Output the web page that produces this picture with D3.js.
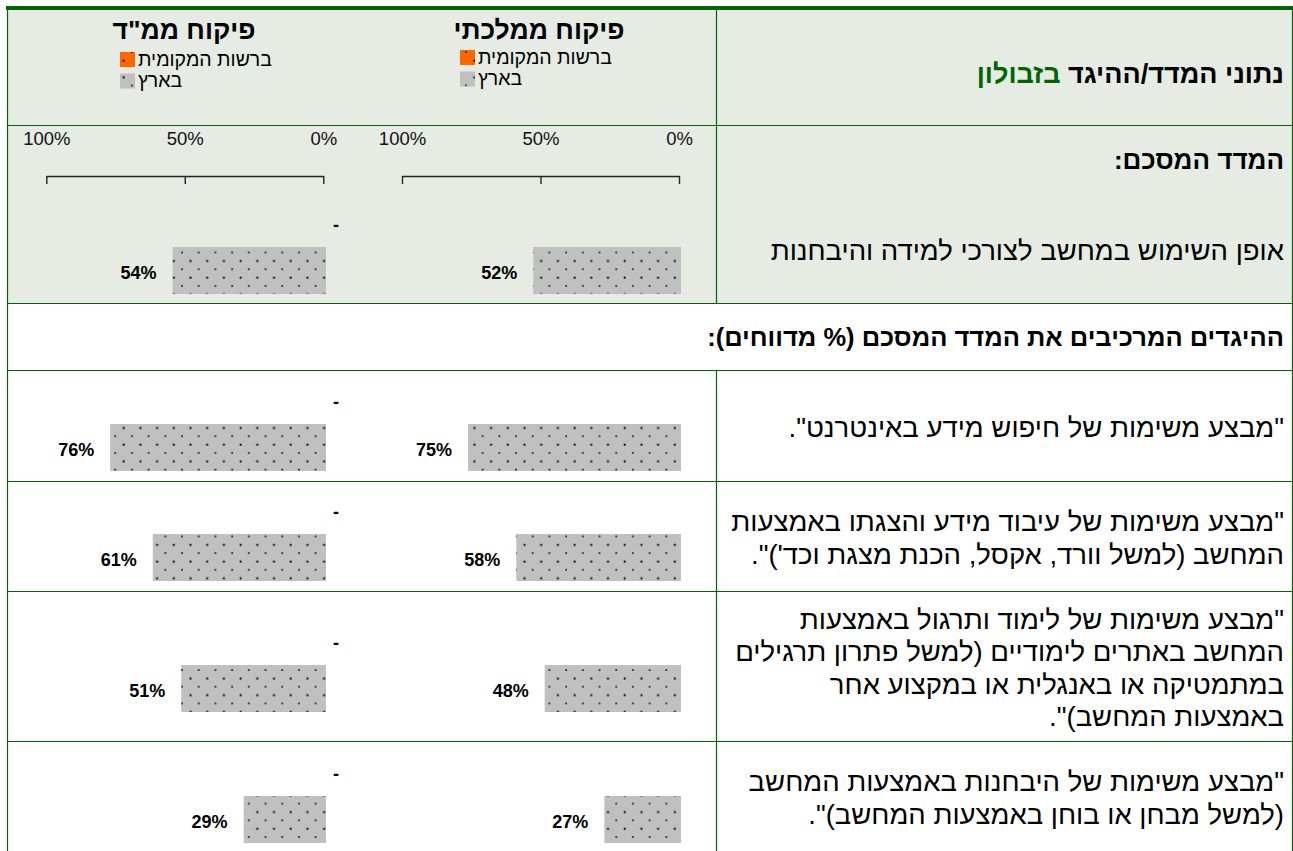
<!DOCTYPE html>
<html lang="he">
<head>
<meta charset="utf-8">
<script src="https://cdn.jsdelivr.net/npm/d3@7"></script>
<style>
  html, body { margin: 0; padding: 0; background: #ffffff; }
  svg { display: block; }
  text { font-family: "Liberation Sans", Arial, sans-serif; fill: #000; }
</style>
</head>
<body>
<svg id="chart" width="1293" height="851"></svg>
<script>
// ---- data ----
const panelTitles = ["פיקוח ממ\"ד", "פיקוח ממלכתי"];
const legendLabels = ["ברשות המקומית", "בארץ"];
const tickValues = [0, 50, 100];
const tickLabels = ["0%", "50%", "100%"];

const headerTitle = "נתוני המדד/ההיגד ";
const headerPlace = "בזבולון";
const summaryHeading = "המדד המסכם:";
const summaryName = "אופן השימוש במחשב לצורכי למידה והיבחנות";
const itemsHeading = "ההיגדים המרכיבים את המדד המסכם (% מדווחים):";

const itemLines = [
  ["\"מבצע משימות של חיפוש מידע באינטרנט\"."],
  ["\"מבצע משימות של עיבוד מידע והצגתו באמצעות",
   "המחשב (למשל וורד, אקסל, הכנת מצגת וכד')\"."],
  ["\"מבצע משימות של לימוד ותרגול באמצעות",
   "המחשב באתרים לימודיים (למשל פתרון תרגילים",
   "במתמטיקה או באנגלית או במקצוע אחר",
   "באמצעות המחשב)\"."],
  ["\"מבצע משימות של היבחנות באמצעות המחשב",
   "(למשל מבחן או בוחן באמצעות המחשב)\"."]
];

// first value = summary index, then the four items
const religiousNational = [54, 76, 61, 51, 29];
const stateNational     = [52, 75, 58, 48, 27];
const religiousLocal    = [null, null, null, null, null];
const stateLocal        = [null, null, null, null, null];
const religiousLocalText = ["-", "-", "-", "-", "-"];
const stateLocalText     = ["", "", "", "", ""];

// ---- layout ----
const GREEN = "#006600";
const PANEL_BG = "#e6ebe4";
const LOCAL_COLOR = "#ff6600";
const NATIONAL_COLOR = "#c0c0c0";

const svg = d3.select("#chart");
const defs = svg.append("defs");

// sparse dotted fill used on the bars and legend keys
function dotPattern(id, base) {
  const p = defs.append("pattern")
    .attr("id", id)
    .attr("patternUnits", "userSpaceOnUse")
    .attr("width", 16.7).attr("height", 16.7)
    .attr("x", 14).attr("y", 1);
  p.append("rect").attr("width", 16.7).attr("height", 16.7).attr("fill", base);
  p.append("rect").attr("x", 0.2).attr("y", 0.2).attr("width", 1.7).attr("height", 1.7)
    .attr("fill", "#000").attr("opacity", 0.85);
  p.append("rect").attr("x", 8.55).attr("y", 8.55).attr("width", 1.9).attr("height", 1.9)
    .attr("fill", "#000");
}
dotPattern("dotsGray", NATIONAL_COLOR);
dotPattern("dotsOrange", LOCAL_COLOR);

const left = 7, right = 1292, divider = 716;
const rowEdges = [10, 125, 303, 370, 481, 591, 741, 851];

// shaded header and summary band
svg.append("rect")
  .attr("x", left).attr("y", 10)
  .attr("width", right - left).attr("height", 303 - 10)
  .attr("fill", PANEL_BG);

// thick rule on top
svg.append("rect")
  .attr("x", 6).attr("y", 6).attr("width", 1293 - 6).attr("height", 4)
  .attr("fill", GREEN);

// grid lines
const grid = svg.append("g").attr("stroke", GREEN).attr("stroke-width", 1.2).attr("fill", "none");
rowEdges.slice(1, -1).forEach(y => {
  grid.append("line").attr("x1", left).attr("x2", right).attr("y1", y + 0.5).attr("y2", y + 0.5);
});
[[left, 10, 851], [right, 10, 851], [divider, 10, 303], [divider, 370, 851]].forEach(([x, y1, y2]) => {
  grid.append("line").attr("x1", x + 0.5).attr("x2", x + 0.5).attr("y1", y1).attr("y2", y2);
});

// ---- right-hand text column ----
const textX = 1284;
function rtlText(y, size, bold) {
  return svg.append("text")
    .attr("x", textX).attr("y", y).attr("dy", "0.35em")
    .attr("direction", "rtl").attr("text-anchor", "start")
    .attr("font-size", size).attr("font-weight", bold ? "bold" : "normal");
}
const t0 = rtlText(74, 27, true);
t0.append("tspan").text(headerTitle);
t0.append("tspan").style("fill", GREEN).text(headerPlace);

rtlText(160, 26, true).text(summaryHeading);
rtlText(250, 27.5, false).text(summaryName);
rtlText(337, 25.5, true).text(itemsHeading);

const lineGap = 32.5;
itemLines.forEach((lines, i) => {
  const top = rowEdges[3 + i], bottom = rowEdges[4 + i];
  const mid = (top + bottom) / 2 + 2;
  const start = mid - (lines.length - 1) * lineGap / 2;
  lines.forEach((ln, j) => rtlText(start + j * lineGap, 27.5, false).text(ln));
});

// ---- chart panels ----
// centre line of each bar pair (summary row, then the four item rows)
const pairCentres = [247, 424, 534, 665, 796];
const barBand = d3.scaleBand().domain(["local", "national"]).range([-47, 47]).padding(0);

const panels = [
  { title: panelTitles[0], zero: 326, axisZero: 323.3, national: religiousNational,
    local: religiousLocal, localText: religiousLocalText, titleX: 184, legendX: 120, legendY: 52 },
  { title: panelTitles[1], zero: 681, axisZero: 679, national: stateNational,
    local: stateLocal, localText: stateLocalText, titleX: 539, legendX: 460, legendY: 50 }
];

panels.forEach(p => {
  const g = svg.append("g");

  // heading
  g.append("text")
    .attr("x", p.titleX).attr("y", 30).attr("dy", "0.35em")
    .attr("text-anchor", "middle").attr("direction", "rtl")
    .attr("font-size", 26.5).attr("font-weight", "bold")
    .text(p.title);

  // legend
  const legendFills = ["url(#dotsOrange)", "url(#dotsGray)"];
  legendLabels.forEach((lab, k) => {
    const y = p.legendY + k * 21.5;
    g.append("rect")
      .attr("x", p.legendX).attr("y", y)
      .attr("width", 15).attr("height", 15)
      .attr("fill", legendFills[k]);
    g.append("text")
      .attr("x", p.legendX + 18).attr("y", y + 7).attr("dy", "0.35em")
      .attr("direction", "rtl").attr("text-anchor", "end")
      .attr("font-size", 19.5)
      .text(lab);
  });

  // axis (reversed: 0% on the right)
  const axisScale = d3.scaleLinear().domain([0, 100]).range([p.axisZero, p.axisZero - 277]);
  const ax = g.append("g")
    .attr("transform", "translate(0,176)")
    .call(d3.axisBottom(axisScale)
      .tickValues(tickValues)
      .tickSize(8)
      .tickSizeOuter(0)
      .tickFormat((d, i) => tickLabels[i]));
  ax.select(".domain").attr("stroke", "#222").attr("stroke-width", 1.4);
  ax.selectAll(".tick line").attr("stroke", "#222").attr("stroke-width", 1.4);
  ax.selectAll(".tick text")
    .attr("y", -37).attr("dy", "0.35em")
    .style("font-family", "'Liberation Sans', Arial, sans-serif")
    .style("font-size", "18.5px")
    .style("fill", "#111");

  // bars
  const x = d3.scaleLinear().domain([0, 100]).range([p.zero, p.zero - 284]);
  pairCentres.forEach((c, i) => {
    const v = p.national[i];
    const yN = c + barBand("national");
    g.append("rect")
      .attr("x", x(v)).attr("y", yN)
      .attr("width", x(0) - x(v)).attr("height", barBand.bandwidth())
      .attr("fill", "url(#dotsGray)");
    g.append("text")
      .attr("x", x(v) - 16).attr("y", yN + barBand.bandwidth() / 2 + 2).attr("dy", "0.35em")
      .attr("text-anchor", "end")
      .style("font-size", "18px").style("font-weight", "bold")
      .text(v + "%");

    const lv = p.local[i];
    const yL = c + barBand("local");
    if (lv != null) {
      g.append("rect")
        .attr("x", x(lv)).attr("y", yL)
        .attr("width", x(0) - x(lv)).attr("height", barBand.bandwidth())
        .attr("fill", "url(#dotsOrange)");
    }
    if (p.localText[i]) {
      g.append("text")
        .attr("x", x(0) + 10).attr("y", yL + barBand.bandwidth() / 2 + 1).attr("dy", "0.35em")
        .attr("text-anchor", "middle")
        .style("font-size", "18px").style("font-weight", "bold")
        .text(p.localText[i]);
    }
  });
});
</script>
</body>
</html>
